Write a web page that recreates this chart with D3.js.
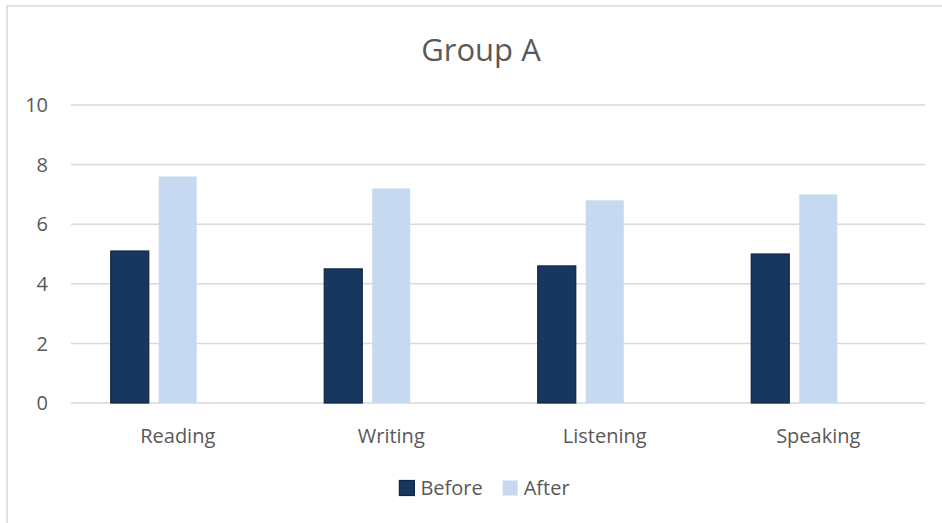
<!DOCTYPE html>
<html>
<head>
<meta charset="utf-8">
<script src="https://cdn.jsdelivr.net/npm/d3@7"></script>
<style>
  body { margin: 0; background: #fff; }
  text { font-family: "Open Sans", "Noto Sans", sans-serif; fill: #595959; }
</style>
</head>
<body>
<script>
const categories = ['Reading', 'Writing', 'Listening', 'Speaking'];
const seriesNames = ['Before', 'After'];
const before = [5.1, 4.5, 4.6, 5.0];
const after = [7.6, 7.2, 6.8, 7.0];
const yTicks = [0, 2, 4, 6, 8, 10];
const title = 'Group A';

const width = 942;
const height = 523;
const colors = { Before: '#17375e', After: '#c6d9f1' };
const strokes = { Before: '#0e2643', After: 'none' };

const svg = d3.select('body').append('svg')
  .attr('width', width)
  .attr('height', height);

// chart frame (right/bottom edges fall outside the picture)
svg.append('rect')
  .attr('x', 7).attr('y', 6)
  .attr('width', width + 10).attr('height', height + 10)
  .attr('fill', '#fff')
  .attr('stroke', '#d9d9d9')
  .attr('stroke-width', 1.5);

const x0 = d3.scaleBand().domain(categories).range([71, 925]).padding(0);
// Excel leaves room for a third (empty) slot in each cluster
const slots = [...seriesNames, '_spare'];
const clusterW = 134;
const x1 = d3.scaleBand().domain(slots)
  .range([(x0.bandwidth() - clusterW) / 2, (x0.bandwidth() + clusterW) / 2])
  .paddingInner(0.2083);
const y = d3.scaleLinear().domain([0, 10]).range([403, 105]);

// gridlines
svg.append('g')
  .selectAll('line')
  .data(yTicks)
  .join('line')
  .attr('x1', 71).attr('x2', 925)
  .attr('y1', d => y(d)).attr('y2', d => y(d))
  .attr('stroke', '#d9d9d9')
  .attr('stroke-width', 1.5);

// y tick labels
svg.append('g')
  .selectAll('text')
  .data(yTicks)
  .join('text')
  .attr('x', 48)
  .attr('y', d => y(d))
  .attr('dy', '0.36em')
  .attr('text-anchor', 'end')
  .attr('font-size', '20px')
  .text(d => d);

// bars
const rows = categories.map((c, i) => ({ cat: c, Before: before[i], After: after[i] }));
const groups = svg.append('g')
  .selectAll('g')
  .data(rows)
  .join('g')
  .attr('transform', d => `translate(${x0(d.cat)},0)`);

groups.selectAll('rect')
  .data(d => seriesNames.map(s => ({ key: s, value: d[s] })))
  .join('rect')
  .attr('x', d => x1(d.key))
  .attr('width', x1.bandwidth())
  .attr('y', d => y(d.value))
  .attr('height', d => y(0) - y(d.value))
  .attr('fill', d => colors[d.key])
  .attr('stroke', d => strokes[d.key])
  .attr('stroke-width', 1.2);

// category labels
svg.append('g')
  .selectAll('text')
  .data(categories)
  .join('text')
  .attr('x', d => x0(d) + x0.bandwidth() / 2)
  .attr('y', 443)
  .attr('text-anchor', 'middle')
  .attr('font-size', '20px')
  .text(d => d);

// title
svg.append('text')
  .attr('x', 481)
  .attr('y', 61)
  .attr('text-anchor', 'middle')
  .attr('font-size', '31px')
  .text(title);

// legend
const legend = svg.append('g');
let lx = 0;
seriesNames.forEach(s => {
  const item = legend.append('g').attr('transform', `translate(${lx},0)`);
  item.append('rect')
    .attr('x', 0).attr('y', -7.5)
    .attr('width', 15).attr('height', 15)
    .attr('fill', colors[s])
    .attr('stroke', strokes[s])
    .attr('stroke-width', 1.2);
  const t = item.append('text')
    .attr('x', 21)
    .attr('y', 0)
    .attr('dy', '0.36em')
    .attr('font-size', '20px')
    .text(s);
  lx += 21 + t.node().getComputedTextLength() + 20;
});
const legendW = lx - 20;
legend.attr('transform', `translate(${484.5 - legendW / 2},488)`);
</script>
</body>
</html>
